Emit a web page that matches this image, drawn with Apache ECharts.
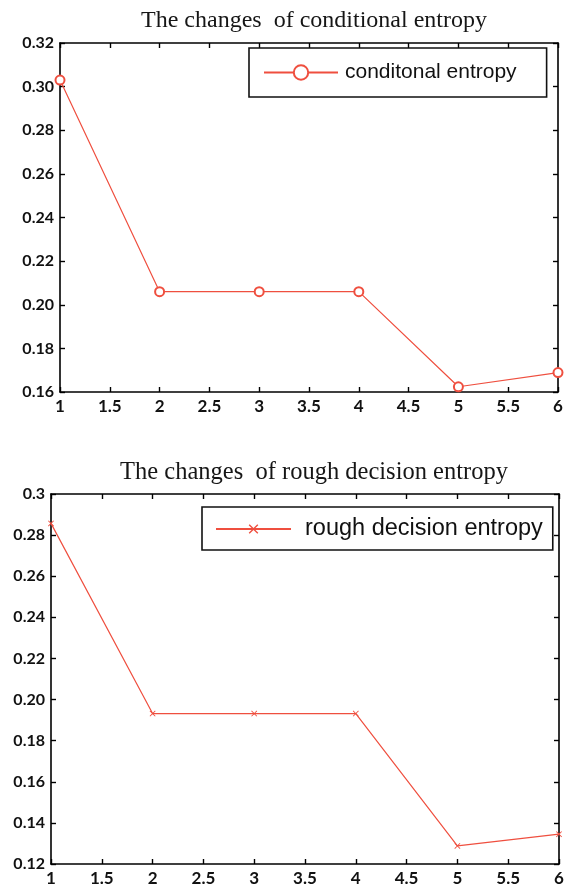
<!DOCTYPE html>
<html>
<head>
<meta charset="utf-8">
<script src="https://cdn.jsdelivr.net/npm/echarts@6/dist/echarts.min.js"></script>
<style>
html,body{margin:0;padding:0;background:#fff;}
#c{width:572px;height:889px;}
</style>
</head>
<body>
<div id="c"></div>
<script>
var xValues = [1, 2, 3, 4, 5, 6];
var conditionalEntropy = [0.303, 0.206, 0.206, 0.206, 0.1624, 0.1689];
var roughDecisionEntropy = [0.2857, 0.1932, 0.1932, 0.1932, 0.1288, 0.1345];
var titles = ['The changes  of conditional entropy', 'The changes  of rough decision entropy'];
var seriesNames = ['conditonal entropy', 'rough decision entropy'];

var red = '#ef4f3f';
var tickFont = {fontFamily: 'Lato', fontWeight: 'bold', fontSize: 16, color: '#111'};

function pairs(ys) { return xValues.map(function (x, i) { return [x, ys[i]]; }); }

function xFmt(v) { return String(Math.round(v * 10) / 10); }

function makeX(gi, pos, show) {
  return {
    type: 'value', gridIndex: gi, position: pos, min: 1, max: 6, interval: 0.5,
    axisLine: {show: true, onZero: false, lineStyle: {color: '#000', width: 1.6}},
    axisTick: {show: true, inside: true, length: 5, lineStyle: {color: '#000', width: 1.4}},
    axisLabel: show ? Object.assign({formatter: xFmt, margin: 6}, tickFont, {fontSize: 17}) : {show: false},
    splitLine: {show: false}
  };
}
function makeY(gi, pos, show, min, max, fmt) {
  return {
    type: 'value', gridIndex: gi, position: pos, min: min, max: max, interval: 0.02,
    axisLine: {show: true, onZero: false, lineStyle: {color: '#000', width: 1.6}},
    axisTick: {show: true, inside: true, length: 5, lineStyle: {color: '#000', width: 1.4}},
    axisLabel: show ? Object.assign({formatter: fmt, margin: 6}, tickFont) : {show: false},
    splitLine: {show: false}
  };
}

var xMark = 'path://M0,1L1,0L5,4L9,0L10,1L6,5L10,9L9,10L5,6L1,10L0,9L4,5Z';

var chart = echarts.init(document.getElementById('c'), null, {renderer: 'canvas'});
chart.setOption({
  animation: false,
  backgroundColor: '#fff',
  title: [
    {text: titles[0], left: 309, top: 4, textAlign: 'center',
     textStyle: {fontFamily: 'Liberation Serif', fontWeight: 'normal', fontSize: 24, color: '#161616'}},
    {text: titles[1], left: 309, top: 455, textAlign: 'center',
     textStyle: {fontFamily: 'Liberation Serif', fontWeight: 'normal', fontSize: 24.5, color: '#161616'}}
  ],
  grid: [
    {left: 60, top: 43, width: 498, height: 349},
    {left: 51, top: 494, width: 508, height: 370}
  ],
  xAxis: [makeX(0, 'bottom', true), makeX(0, 'top', false), makeX(1, 'bottom', true), makeX(1, 'top', false)],
  yAxis: [
    makeY(0, 'left', true, 0.16, 0.32, function (v) { return v.toFixed(2); }),
    makeY(0, 'right', false, 0.16, 0.32),
    makeY(1, 'left', true, 0.12, 0.3, function (v) { var s = v.toFixed(2); return s === '0.30' ? '0.3' : s; }),
    makeY(1, 'right', false, 0.12, 0.3)
  ],
  legend: [
    {data: [seriesNames[0]], left: 249, top: 48, orient: 'horizontal',
     padding: [14, 30, 14, 14], itemWidth: 74, itemHeight: 18, itemGap: 0,
     borderColor: '#111', borderWidth: 1.6, backgroundColor: '#fff',
     textStyle: {fontFamily: 'Liberation Sans', fontSize: 21, color: '#111', padding: [0, 0, 0, 2]}},
    {data: [seriesNames[1]], left: 202, top: 507, orient: 'horizontal',
     padding: [10, 10, 9, 13], itemWidth: 75, itemHeight: 12, itemGap: 0,
     borderColor: '#111', borderWidth: 1.6, backgroundColor: '#fff',
     textStyle: {fontFamily: 'Liberation Sans', fontSize: 23.5, color: '#111', padding: [0, 0, 0, 9]}}
  ],
  series: [
    {name: seriesNames[0], type: 'line', xAxisIndex: 0, yAxisIndex: 0, data: pairs(conditionalEntropy),
     symbol: 'emptyCircle', symbolSize: 9, showAllSymbol: true,
     lineStyle: {color: red, width: 1.2}, itemStyle: {color: red, borderColor: red, borderWidth: 1.2}},
    {name: seriesNames[1], type: 'line', xAxisIndex: 2, yAxisIndex: 2, data: pairs(roughDecisionEntropy),
     symbol: xMark, symbolSize: 6, showAllSymbol: true,
     lineStyle: {color: red, width: 1.2}, itemStyle: {color: red, borderColor: red, borderWidth: 0}}
  ]
});
</script>
</body>
</html>
